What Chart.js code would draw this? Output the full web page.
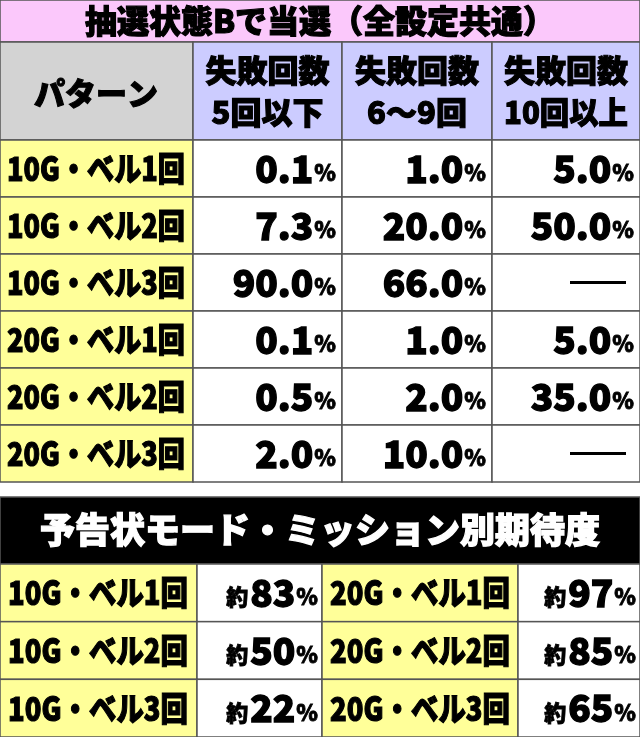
<!DOCTYPE html>
<html><head><meta charset="utf-8">
<script src="https://cdn.jsdelivr.net/npm/chart.js@4"></script>
<style>html,body{margin:0;padding:0;background:#fff}#wrap{width:640px;height:737px}</style>
</head><body><div id="wrap"><canvas id="c"></canvas></div>
<script>
'use strict';
const title1 = '抽選状態Bで当選（全設定共通）';
const headerLabel = 'パターン';
const columns = [['失敗回数', '5回以下'], ['失敗回数', '6〜9回'], ['失敗回数', '10回以上']];
const patterns = ['10G・ベル1回', '10G・ベル2回', '10G・ベル3回', '20G・ベル1回', '20G・ベル2回', '20G・ベル3回'];
const fail5 = [0.1, 7.3, 90.0, 0.1, 0.5, 2.0];
const fail69 = [1.0, 20.0, 66.0, 1.0, 2.0, 10.0];
const fail10 = [5.0, 50.0, null, 5.0, 35.0, null];
const title2 = '予告状モード・ミッション別期待度';
const left10 = ['10G・ベル1回', '10G・ベル2回', '10G・ベル3回'];
const leftVals = [83, 50, 22];
const right20 = ['20G・ベル1回', '20G・ベル2回', '20G・ベル3回'];
const rightVals = [97, 85, 65];

const FONT = '"Noto Sans CJK JP", "Noto Sans", sans-serif';

const tablePlugin = {
  id: 'table',
  afterDraw(chart) {
    const ctx = chart.ctx, X = chart.scales.x, Y = chart.scales.y;
    const px = v => X.getPixelForValue(v), py = v => Y.getPixelForValue(v);
    const rect = (x0, y0, x1, y1, fill) => {
      ctx.fillStyle = fill;
      ctx.fillRect(px(x0), py(y0), px(x1) - px(x0), py(y1) - py(y0));
      ctx.strokeStyle = '#555'; ctx.lineWidth = 1.5;
      ctx.strokeRect(px(x0), py(y0), px(x1) - px(x0), py(y1) - py(y0));
    };
    const text = (s, x, y, size, color, align, maxW) => {
      ctx.save();
      ctx.font = `900 ${size}px ${FONT}`;
      ctx.fillStyle = color; ctx.textBaseline = 'middle';
      const w = ctx.measureText(s).width;
      const sx = maxW && w > maxW ? maxW / w : 1;
      let x0 = px(x);
      if (align === 'center') x0 -= w * sx / 2;
      else if (align === 'right') x0 -= w * sx;
      ctx.translate(x0, py(y)); ctx.scale(sx, 1);
      ctx.textAlign = 'left'; ctx.fillText(s, 0, 0);
      ctx.strokeStyle = color; ctx.lineWidth = size / 28; ctx.strokeText(s, 0, 0);
      ctx.restore();
      return w * sx;
    };
    const value = (num, suffix, xr, y, big, small, prefix) => {
      ctx.save(); ctx.font = `900 ${small}px ${FONT}`;
      const ws = ctx.measureText(suffix).width; ctx.restore();
      text(suffix, xr, y + 4, small, '#000', 'right');
      const wn = text(num, xr - ws - 1, y, big, '#000', 'right');
      if (prefix) text(prefix, xr - ws - wn - 3, y + 4, small, '#000', 'right');
    };

    // table 1
    rect(0, 0, 640, 42, '#fbc8fb');
    text(title1, 320, 21, 32, '#000', 'center', 600);
    rect(0, 42, 193, 140, '#d3d3d3');
    text(headerLabel, 96, 93, 31, '#000', 'center', 130);
    const cx = [193, 342, 492, 640];
    columns.forEach((c, i) => {
      rect(cx[i], 42, cx[i + 1], 140, '#ccccff');
      text(c[0], (cx[i] + cx[i + 1]) / 2, 70, 31, '#000', 'center', cx[i + 1] - cx[i] - 14);
      text(c[1], (cx[i] + cx[i + 1]) / 2, 112, 31, '#000', 'center', cx[i + 1] - cx[i] - 24);
    });
    const rh = (482 - 140) / patterns.length;
    const series = [fail5, fail69, fail10];
    patterns.forEach((p, r) => {
      const y0 = 140 + r * rh, ym = y0 + rh / 2;
      rect(0, y0, 193, y0 + rh, '#ffff99');
      text(p, 96, ym, 33, '#000', 'center', 178);
      series.forEach((s, i) => {
        rect(cx[i], y0, cx[i + 1], y0 + rh, '#fff');
        const v = s[r];
        if (v === null) {
          ctx.fillStyle = '#000';
          ctx.fillRect(px(cx[i + 1] - 70), py(ym) - 1.5, px(cx[i + 1] - 14) - px(cx[i + 1] - 70), 3);
        } else {
          value(v.toFixed(1), '%', cx[i + 1] - 6, ym, 37, 22);
        }
      });
    });

    // table 2
    rect(0, 497, 640, 564, '#000');
    text(title2, 320, 530, 35, '#fff', 'center', 600);
    const bx = [0, 197, 322, 518, 640];
    const rh2 = (737 - 564) / 3;
    for (let r = 0; r < 3; r++) {
      const y0 = 564 + r * rh2, ym = y0 + rh2 / 2;
      rect(bx[0], y0, bx[1], y0 + rh2, '#ffff99');
      text(left10[r], 98, ym, 33, '#000', 'center', 180);
      rect(bx[1], y0, bx[2], y0 + rh2, '#fff');
      value(String(leftVals[r]), '%', bx[2] - 4, ym, 37, 22, '約');
      rect(bx[2], y0, bx[3], y0 + rh2, '#ffff99');
      text(right20[r], 420, ym, 33, '#000', 'center', 180);
      rect(bx[3], y0, bx[4], y0 + rh2, '#fff');
      value(String(rightVals[r]), '%', bx[4] - 4, ym, 37, 22, '約');
    }
  }
};

new Chart(document.getElementById('c'), {
  type: 'scatter',
  data: { datasets: [{ data: [] }] },
  options: {
    responsive: true, maintainAspectRatio: false, animation: false,
    layout: { padding: 0 },
    plugins: { legend: { display: false }, tooltip: { enabled: false } },
    scales: {
      x: { type: 'linear', min: 0, max: 640, display: false },
      y: { type: 'linear', min: 0, max: 737, reverse: true, display: false }
    }
  },
  plugins: [tablePlugin]
});
</script></body></html>
